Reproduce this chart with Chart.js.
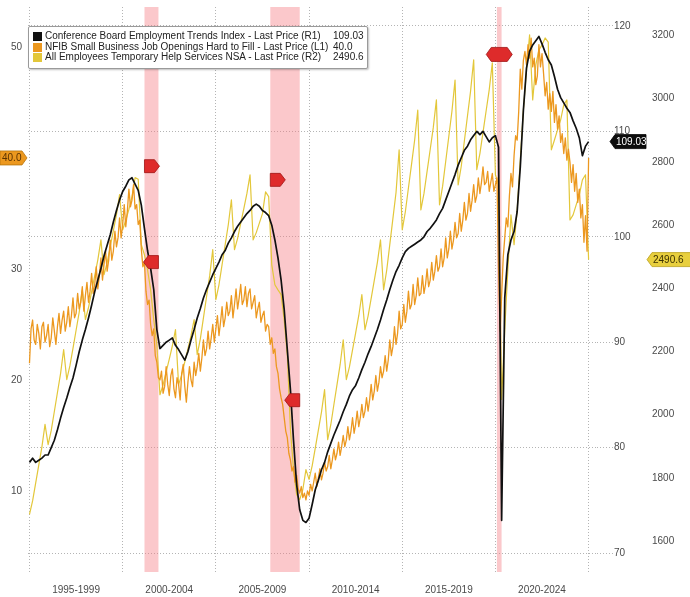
<!DOCTYPE html>
<html>
<head>
<meta charset="utf-8">
<title>Employment indicators</title>
<script src="https://cdn.jsdelivr.net/npm/chart.js@4.4.1/dist/chart.umd.min.js"></script>
<style>
  html, body { margin: 0; padding: 0; background: #fff; }
  #wrap { position: relative; width: 690px; height: 597px; overflow: hidden; }
  #legend {
    position: absolute; left: 28px; top: 26px; width: 340px; height: 43px;
    box-sizing: border-box; padding-top: 4px;
    border: 1px solid #9a9a9a; border-radius: 2px; background: #fff;
    box-shadow: 1px 1px 2px rgba(0,0,0,0.25);
    font: 10px "Liberation Sans", Arial, sans-serif; color: #222;
  }
  .row { position: relative; height: 10.5px; line-height: 10.5px; white-space: nowrap; }
  .sw { position: absolute; left: 4px; top: 1px; width: 9px; height: 9px; }
  .lab { position: absolute; left: 16px; }
  .val { position: absolute; left: 304px; }
</style>
</head>
<body>
<div id="wrap">
  <canvas id="chart" width="690" height="597"></canvas>
  <div id="legend"></div>
</div>
<script>
// ---- Series values -------------------------------------------------------
const seriesNames = [
  'Conference Board Employment Trends Index - Last Price (R1)',
  'NFIB Small Business Job Openings Hard to Fill - Last Price (L1)',
  'All Employees Temporary Help Services NSA - Last Price (R2)'
];
const seriesDecimals = [2, 1, 1];

// Conference Board ETI, every other month from Jan 1995
const etiStart = 1995;
const etiStepMonths = 2;
const etiValues = [
  78.6, 79.0, 78.6, 78.8, 79.0, 79.3,
  79.3, 80.0, 80.7, 81.7, 82.8, 83.8,
  84.7, 85.7, 86.6, 87.8, 89.1, 90.2,
  91.2, 92.3, 93.5, 94.8, 95.9, 97.0,
  98.2, 99.2, 100.2, 101.4, 102.5, 103.5,
  104.3, 104.8, 105.4, 105.6, 105.0, 104.4,
  103.0, 100.8, 98.7, 97.0, 95.0, 91.2,
  89.4, 89.7, 90.0, 90.2, 90.4, 89.7,
  89.3, 88.8, 88.3, 89.1, 90.2, 91.2,
  92.3, 93.2, 94.2, 95.0, 95.7, 96.4,
  97.0, 97.6, 98.3, 98.7, 99.4, 99.9,
  100.5, 101.0, 101.4, 101.8, 102.2, 102.5,
  102.9, 103.1, 102.9, 102.5, 102.3, 102.0,
  101.1, 99.7, 98.0, 95.9, 93.1, 89.3,
  85.5, 80.7, 76.5, 74.1, 73.1, 72.9,
  73.3, 74.6, 76.0, 76.9, 77.9, 78.6,
  79.6, 80.4, 81.2, 81.9, 82.6, 83.4,
  84.1, 84.9, 85.5, 85.9, 86.6, 87.4,
  88.1, 88.9, 89.6, 90.4, 91.2, 92.1,
  93.1, 94.0, 95.0, 95.9, 96.7, 97.3,
  98.0, 98.6, 98.9, 99.1, 99.3, 99.5,
  99.7, 100.0, 100.5, 100.8, 101.2, 101.6,
  102.2, 102.7, 103.5, 104.3, 105.1, 105.9,
  106.8, 107.5, 108.2, 108.6, 109.2, 109.6,
  110.0, 109.7, 110.0, 109.5, 109.0, 109.4,
  109.6, 108.5, 73.1, 94.2, 98.3, 99.7,
  100.5, 102.4, 106.6, 112.0, 116.0, 117.6,
  118.2, 118.6, 119.0, 118.3, 117.5, 116.8,
  116.3, 115.2, 114.0, 113.2, 112.7, 112.2,
  111.8, 111.0, 110.3, 109.4, 107.7, 108.6,
  109.03
];

// NFIB job openings hard to fill (%), monthly from Jan 1995
const nfibStart = 1995;
const nfibStepMonths = 1;
const nfibValues = [
  21.5, 24.6, 25.4, 23.6, 23.2, 25.0, 24.2, 22.8, 24.8, 25.2, 23.4, 24.0,
  25.0, 23.0, 23.8, 25.6, 24.4, 23.2, 24.8, 26.0, 24.2, 25.4, 26.2, 24.4,
  25.2, 26.6, 24.8, 25.8, 27.4, 25.6, 26.0, 27.8, 26.4, 27.0, 28.4, 26.2,
  27.6, 28.8, 27.0, 28.0, 29.6, 27.8, 28.6, 30.2, 28.2, 29.4, 31.0, 29.0,
  30.4, 31.6, 29.8, 30.8, 32.6, 30.8, 31.6, 33.4, 32.0, 32.8, 34.6, 32.8,
  34.0, 35.8, 33.8, 35.2, 37.2, 35.6, 36.2, 37.6, 35.4, 35.8, 34.0, 34.4,
  31.8, 30.2, 30.6, 28.0, 26.8, 27.2, 25.0, 24.0, 24.6, 22.2, 21.6, 20.2,
  20.0, 20.8, 18.8, 19.4, 21.2, 19.6, 18.6, 20.4, 21.0, 19.2, 18.4, 20.2,
  19.6, 18.2, 20.6, 21.4, 19.4, 18.0, 19.8, 21.2, 20.0, 19.4, 21.6, 20.4,
  21.2, 22.4, 20.8, 22.0, 23.6, 22.2, 22.8, 24.4, 22.8, 23.8, 25.0, 23.4,
  24.6, 25.8, 24.0, 25.2, 26.6, 24.8, 25.6, 27.0, 25.8, 26.2, 27.6, 25.6,
  26.8, 28.2, 26.4, 27.4, 28.6, 26.8, 27.2, 28.4, 26.6, 27.8, 28.2, 26.4,
  27.0, 27.6, 25.6, 26.4, 27.0, 25.2, 25.8, 26.2, 24.4, 25.0, 24.8, 23.2,
  23.8, 22.4, 22.8, 21.2, 20.6, 19.2, 18.4, 17.8, 16.6, 15.4, 14.8, 13.4,
  12.8, 11.8, 12.2, 10.8, 11.4, 10.2, 9.8, 10.4, 9.4, 9.8, 9.2, 10.0,
  9.6, 10.6, 10.0, 10.8, 11.6, 10.4, 11.2, 12.0, 11.0, 11.6, 12.6, 11.8,
  12.2, 13.2, 12.0, 12.8, 13.8, 12.8, 13.4, 14.4, 13.2, 14.0, 15.0, 14.0,
  14.6, 15.8, 14.6, 15.4, 16.6, 15.2, 16.0, 17.2, 15.8, 16.6, 17.8, 16.6,
  17.2, 18.4, 17.2, 18.2, 19.6, 18.2, 19.0, 20.4, 19.0, 19.8, 21.2, 20.2,
  20.8, 22.2, 20.8, 21.8, 23.6, 22.2, 23.0, 24.8, 23.2, 24.2, 26.2, 24.6,
  25.0, 26.8, 25.2, 26.2, 28.0, 26.4, 26.8, 28.6, 26.8, 27.6, 29.2, 27.6,
  27.8, 29.4, 27.8, 28.6, 30.0, 28.4, 29.0, 30.6, 29.0, 29.8, 31.2, 29.8,
  30.2, 31.8, 30.2, 31.0, 32.8, 31.0, 31.8, 33.4, 31.8, 32.6, 34.2, 32.8,
  33.2, 35.0, 33.4, 34.4, 36.0, 34.4, 35.0, 36.8, 35.2, 36.2, 37.6, 36.0,
  36.6, 38.2, 36.8, 37.8, 39.2, 37.6, 37.8, 38.8, 37.0, 37.8, 38.6, 37.0,
  37.6, 38.2, 30.2, 24.4, 27.6, 31.0, 32.8, 34.6, 33.8, 36.6, 38.6, 37.4,
  40.2, 42.0, 41.6, 44.2, 48.0, 46.2, 48.8, 49.6, 48.4, 50.2, 49.0, 50.8,
  48.2, 49.0, 46.6, 47.4, 50.2, 48.2, 49.4, 47.6, 45.6, 46.8, 44.4, 45.8,
  44.2, 46.0, 43.2, 44.8, 42.6, 43.8, 41.4, 42.2, 40.4, 41.8, 39.8, 40.8,
  39.6, 37.8, 39.4, 37.0, 38.6, 36.0, 37.2, 34.6, 35.8, 32.4, 34.8, 31.6,
  40.0
];

// Temporary help services employment (thousands, NSA), every other month from Jan 1995
const tempStart = 1995;
const tempStepMonths = 2;
const tempValues = [
  1684, 1727, 1784, 1841, 1898, 1969,
  1905, 1950, 2010, 2070, 2130, 2206,
  2111, 2154, 2210, 2267, 2324, 2395,
  2301, 2339, 2389, 2440, 2490, 2553,
  2443, 2481, 2532, 2582, 2633, 2696,
  2585, 2615, 2650, 2690, 2750, 2745,
  2538, 2506, 2459, 2395, 2300, 2221,
  2063, 2094, 2135, 2176, 2218, 2269,
  2095, 2126, 2167, 2208, 2250, 2301,
  2190, 2240, 2306, 2373, 2439, 2522,
  2364, 2411, 2475, 2538, 2601, 2680,
  2522, 2558, 2605, 2652, 2700, 2759,
  2553, 2576, 2606, 2636, 2705, 2690,
  2474, 2411, 2395, 2380, 2300, 2190,
  1953, 1826, 1747, 1731, 1763, 1826,
  1795, 1838, 1894, 1951, 2008, 2079,
  1921, 1968, 2032, 2095, 2158, 2237,
  2111, 2151, 2205, 2259, 2313, 2380,
  2269, 2312, 2368, 2425, 2482, 2553,
  2395, 2457, 2539, 2621, 2703, 2838,
  2585, 2642, 2718, 2793, 2869, 2964,
  2648, 2700, 2770, 2839, 2909, 2996,
  2664, 2723, 2802, 2881, 2960, 3059,
  2727, 2786, 2866, 2945, 3024, 3123,
  2775, 2826, 2893, 2961, 3028, 3113,
  2759, 2727, 2048, 2269, 2459, 2632,
  2538, 2648, 2806, 2964, 3091, 3202,
  2996, 3107, 3154, 3170, 3192, 3179,
  2838, 2869, 2901, 2933, 2980, 2996,
  2616, 2632, 2664, 2695, 2743, 2759,
  2490.6
];

// ---- Axis ticks and annotations -----------------------------------------
const gridYears = [1995, 2000, 2005, 2010, 2015, 2020, 2025];
const periodMids = [1997.5, 2002.5, 2007.5, 2012.5, 2017.5, 2022.5];
const periodLabels = ['1995-1999', '2000-2004', '2005-2009', '2010-2014', '2015-2019', '2020-2024'];
const leftTicks = [10, 20, 30, 40, 50];
const r1Ticks = [70, 80, 90, 100, 110, 120];
const r2Ticks = [1600, 1800, 2000, 2200, 2400, 2600, 2800, 3000, 3200];

// US recessions (start, end as decimal years)
const recessionStarts = [2001.17, 2007.92, 2020.08];
const recessionEnds = [2001.92, 2009.50, 2020.33];
// ETI-scale level at which each recession's start / end flag sits
const recessionStartLevels = [106.7, 105.4, 117.3];
const recessionEndLevels = [97.6, 84.5, 117.3];

// ---- Styling -------------------------------------------------------------
const colors = ['#111111', '#ec981f', '#e3c73a'];
const FONT = '"Liberation Sans", Arial, sans-serif';
const GRID = '#b4b4b4';

function toPoints(start, stepMonths, values) {
  return values.map((v, i) => ({ x: start + (i * stepMonths) / 12, y: v }));
}
const lastValues = [etiValues, nfibValues, tempValues].map(a => a[a.length - 1]);
const lastLabels = lastValues.map((v, i) => v.toFixed(seriesDecimals[i]));

// Legend box
const legendEl = document.getElementById('legend');
seriesNames.forEach((name, i) => {
  const row = document.createElement('div');
  row.className = 'row';
  row.innerHTML = '<span class="sw" style="background:' + colors[i] + '"></span>' +
    '<span class="lab"></span><span class="val"></span>';
  row.querySelector('.lab').textContent = name;
  row.querySelector('.val').textContent = lastLabels[i];
  legendEl.appendChild(row);
});

// Shaded recession bands behind the series
const recessionBands = {
  id: 'recessionBands',
  beforeDatasetsDraw(chart) {
    const { ctx, chartArea: a, scales } = chart;
    const x = scales.x;
    ctx.save();
    ctx.fillStyle = 'rgba(245, 125, 130, 0.42)';
    recessionStarts.forEach((s, i) => {
      const x0 = x.getPixelForValue(s);
      const x1 = x.getPixelForValue(recessionEnds[i]);
      ctx.fillRect(x0, a.top, Math.max(x1 - x0, 3), a.bottom - a.top);
    });
    ctx.restore();
  }
};

// Red recession start / end flags
const recessionFlags = {
  id: 'recessionFlags',
  afterDatasetsDraw(chart) {
    const { ctx, scales } = chart;
    const x = scales.x, y = scales.yR1;
    const h = 13, body = 10, tip = 5;
    ctx.save();
    ctx.fillStyle = '#de2b2b';
    ctx.strokeStyle = '#9e1414';
    ctx.lineWidth = 0.8;
    recessionStarts.forEach((s, i) => {
      const xs = x.getPixelForValue(s);
      const xe = x.getPixelForValue(recessionEnds[i]);
      const ys = y.getPixelForValue(recessionStartLevels[i]);
      const ye = y.getPixelForValue(recessionEndLevels[i]);
      ctx.beginPath();
      if (xe - xs < 8) {
        const cx = (xs + xe) / 2, hw = 13;
        ctx.moveTo(cx - hw, ys);
        ctx.lineTo(cx - hw + 5, ys - 7);
        ctx.lineTo(cx + hw - 5, ys - 7);
        ctx.lineTo(cx + hw, ys);
        ctx.lineTo(cx + hw - 5, ys + 7);
        ctx.lineTo(cx - hw + 5, ys + 7);
        ctx.closePath();
        ctx.fill(); ctx.stroke();
      } else {
        ctx.moveTo(xs, ys - h / 2);
        ctx.lineTo(xs + body, ys - h / 2);
        ctx.lineTo(xs + body + tip, ys);
        ctx.lineTo(xs + body, ys + h / 2);
        ctx.lineTo(xs, ys + h / 2);
        ctx.closePath();
        ctx.fill(); ctx.stroke();
        ctx.beginPath();
        ctx.moveTo(xe, ye - h / 2);
        ctx.lineTo(xe - body, ye - h / 2);
        ctx.lineTo(xe - body - tip, ye);
        ctx.lineTo(xe - body, ye + h / 2);
        ctx.lineTo(xe, ye + h / 2);
        ctx.closePath();
        ctx.fill(); ctx.stroke();
      }
    });
    ctx.restore();
  }
};

// Last-value tags on the axes
const lastValueTags = {
  id: 'lastValueTags',
  afterDraw(chart) {
    const { ctx, chartArea: a, scales } = chart;
    ctx.save();
    ctx.font = '10px ' + FONT;
    ctx.textBaseline = 'middle';
    const tag = (xTip, yc, w, dir, fill, stroke, text, textColor) => {
      const h = 14, tip = 5;
      ctx.beginPath();
      if (dir === 'right') {
        ctx.moveTo(xTip, yc);
        ctx.lineTo(xTip - tip, yc - h / 2);
        ctx.lineTo(xTip - tip - w, yc - h / 2);
        ctx.lineTo(xTip - tip - w, yc + h / 2);
        ctx.lineTo(xTip - tip, yc + h / 2);
      } else {
        ctx.moveTo(xTip, yc);
        ctx.lineTo(xTip + tip, yc - h / 2);
        ctx.lineTo(xTip + tip + w, yc - h / 2);
        ctx.lineTo(xTip + tip + w, yc + h / 2);
        ctx.lineTo(xTip + tip, yc + h / 2);
      }
      ctx.closePath();
      ctx.fillStyle = fill; ctx.fill();
      ctx.strokeStyle = stroke; ctx.lineWidth = 0.8; ctx.stroke();
      ctx.fillStyle = textColor;
      ctx.textAlign = 'left';
      const tx = dir === 'right' ? xTip - tip - w + 2 : xTip + tip + 1;
      ctx.fillText(text, tx, yc + 0.5);
    };
    // NFIB on the left axis
    tag(a.left - 1, scales.yL.getPixelForValue(lastValues[1]), 22, 'right',
        '#ec981f', '#b8730c', lastLabels[1], '#5a3200');
    // ETI on the first right axis
    tag(a.right + 13, scales.yR1.getPixelForValue(lastValues[0]), 31, 'left',
        '#0c0c0c', '#000', lastLabels[0], '#ffffff');
    // Temp help on the second right axis
    tag(scales.yR2.left + 12, scales.yR2.getPixelForValue(lastValues[2]), 40, 'left',
        '#e8cf3e', '#b9a01c', lastLabels[2], '#3a3000');
    ctx.restore();
  }
};

const tickFont = { family: FONT, size: 10 };
const setTicks = list => scale => { scale.ticks = list.map(v => ({ value: v })); };
const plainNumber = v => String(v);

new Chart(document.getElementById('chart'), {
  type: 'line',
  data: {
    datasets: [
      { label: seriesNames[0], data: toPoints(etiStart, etiStepMonths, etiValues),
        xAxisID: 'x', yAxisID: 'yR1', borderColor: colors[0], borderWidth: 1.7 },
      { label: seriesNames[1], data: toPoints(nfibStart, nfibStepMonths, nfibValues),
        xAxisID: 'x', yAxisID: 'yL', borderColor: colors[1], borderWidth: 1.3 },
      { label: seriesNames[2], data: toPoints(tempStart, tempStepMonths, tempValues),
        xAxisID: 'x', yAxisID: 'yR2', borderColor: colors[2], borderWidth: 1.2 }
    ]
  },
  options: {
    responsive: false,
    animation: false,
    devicePixelRatio: 1,
    layout: { padding: { top: 7, left: 0, right: 0, bottom: 0 } },
    elements: { point: { radius: 0 }, line: { tension: 0, borderJoinStyle: 'round' } },
    plugins: { legend: { display: false }, tooltip: { enabled: false } },
    scales: {
      x: {
        type: 'linear', position: 'bottom', min: 1994.92, max: 2025.45,
        afterBuildTicks: setTicks(periodMids),
        afterFit: s => { s.height = 25; },
        grid: { display: false, drawTicks: false },
        border: { display: false },
        ticks: {
          autoSkip: false, maxRotation: 0, padding: 12, color: '#4a4a4a', font: tickFont,
          callback: (v, i) => periodLabels[i]
        }
      },
      xGrid: {
        type: 'linear', position: 'bottom', min: 1994.92, max: 2025.45,
        afterBuildTicks: setTicks(gridYears),
        afterFit: s => { s.height = 0; },
        grid: { color: GRID, lineWidth: 1, drawTicks: false },
        border: { display: false, dash: [1, 2] },
        ticks: { display: false }
      },
      yL: {
        type: 'linear', position: 'left', min: 2.7, max: 53.6,
        afterBuildTicks: setTicks(leftTicks),
        afterFit: s => { s.width = 28; },
        grid: { display: false, drawTicks: true, tickLength: 6 },
        border: { display: false },
        ticks: { padding: 0, color: '#4a4a4a', font: tickFont, callback: plainNumber }
      },
      yR1: {
        type: 'linear', position: 'right', weight: 1, min: 68.2, max: 121.8,
        afterBuildTicks: setTicks(r1Ticks),
        afterFit: s => { s.width = 38; },
        grid: { color: GRID, lineWidth: 1, drawTicks: true, tickLength: 16,
                tickBorderDash: [1, 2], tickColor: GRID },
        border: { display: false, dash: [1, 2] },
        ticks: { padding: 1, color: '#4a4a4a', font: tickFont, callback: plainNumber }
      },
      yR2: {
        type: 'linear', position: 'right', weight: 2, min: 1502, max: 3290,
        afterBuildTicks: setTicks(r2Ticks),
        afterFit: s => { s.width = 55; },
        grid: { display: false, drawTicks: true, tickLength: 16 },
        border: { display: false },
        ticks: { padding: 1, color: '#4a4a4a', font: tickFont, callback: plainNumber }
      }
    }
  },
  plugins: [recessionBands, recessionFlags, lastValueTags]
});
</script>
</body>
</html>
